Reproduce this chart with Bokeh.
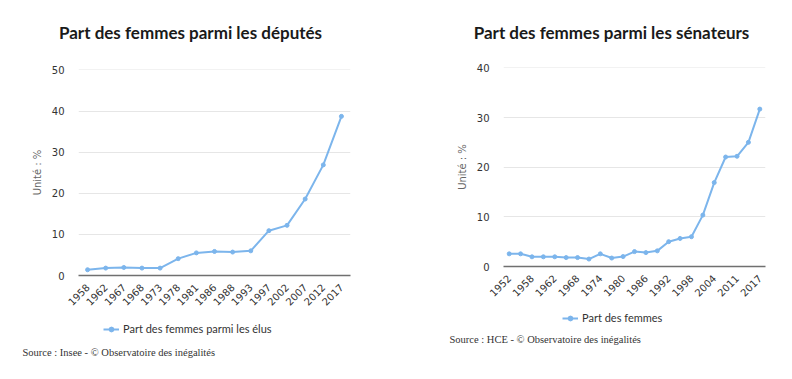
from bokeh.plotting import figure
from bokeh.models import (FactorRange, Range1d, Label, Legend, LegendItem,
                          FixedTicker, CustomJSTickFormatter)
from bokeh.layouts import row, column
from bokeh.embed import file_html
from bokeh.resources import INLINE

# ---- data ----
dep_years = ["1958", "1962", "1967", "1968", "1973", "1978", "1981", "1986",
             "1988", "1993", "1997", "2002", "2007", "2012", "2017"]
dep_values = [1.4, 1.8, 1.95, 1.8, 1.8, 4.1, 5.5, 5.85, 5.7, 6.0, 10.9, 12.2,
              18.6, 26.9, 38.7]

sen_years = ["1952", "1955", "1958", "1959", "1962", "1965", "1968", "1971",
             "1974", "1977", "1980", "1983", "1986", "1989", "1992", "1995",
             "1998", "2001", "2004", "2008", "2011", "2014", "2017"]
sen_values = [2.55, 2.55, 1.95, 1.95, 1.95, 1.8, 1.8, 1.5, 2.55, 1.7, 2.0,
              3.0, 2.8, 3.15, 5.0, 5.65, 6.0, 10.35, 16.9, 22.05, 22.2, 25.0,
              31.7]

dep_title = "Part des femmes parmi les députés"
sen_title = "Part des femmes parmi les sénateurs"
dep_legend = "Part des femmes parmi les élus"
sen_legend = "Part des femmes"
dep_source = "Source : Insee - © Observatoire des inégalités"
sen_source = "Source : HCE - © Observatoire des inégalités"
axis_title = "Unité : %"

LINE = "#7cb5ec"
TICK_FONT = "DejaVu Sans"
W = 790


def text_label(x, y, text, font, size, style, color, align):
    return Label(x=x, y=y, x_units="screen", y_units="screen", text=text,
                 text_font=font, text_font_size=size, text_font_style=style,
                 text_color=color, text_align=align, text_baseline="middle")


# ---- titles (one strip over both charts) ----
title_fig = figure(width=W, height=58, output_backend="svg",
                   toolbar_location=None, tools="",
                   x_axis_type=None, y_axis_type=None,
                   x_range=Range1d(0, 1), y_range=Range1d(0, 1), min_border=0)
title_fig.outline_line_color = None
title_fig.grid.visible = False
title_fig.add_layout(text_label(190, 26, dep_title, "Lato", "17px", "bold",
                                "#1a1a1a", "center"))
title_fig.add_layout(text_label(611, 26, sen_title, "Lato", "17px", "bold",
                                "#1a1a1a", "center"))


# ---- charts ----
def chart_fig(years, values, ymax, width, height, borders, label_step):
    left, right, top, bottom = borders
    p = figure(x_range=FactorRange(*years, range_padding=0),
               y_range=Range1d(0, ymax * 1.002),
               width=width, height=height, output_backend="svg",
               toolbar_location=None, tools="",
               min_border_left=left, min_border_right=right,
               min_border_top=top, min_border_bottom=bottom)
    p.outline_line_color = None

    p.line(years, values, line_color=LINE, line_width=2)
    p.scatter(years, values, size=4, fill_color=LINE, line_color=LINE)

    p.yaxis.ticker = FixedTicker(ticks=list(range(0, ymax + 1, 10)))
    p.yaxis.axis_line_color = None
    p.yaxis.major_tick_line_color = None
    p.yaxis.minor_tick_line_color = None
    p.yaxis.major_label_text_font = TICK_FONT
    p.yaxis.major_label_text_font_size = "10px"
    p.yaxis.major_label_text_color = "#333333"
    p.yaxis.major_label_standoff = 8
    p.yaxis.axis_label = axis_title
    p.yaxis.axis_label_text_font = TICK_FONT
    p.yaxis.axis_label_text_font_size = "10px"
    p.yaxis.axis_label_text_font_style = "normal"
    p.yaxis.axis_label_text_color = "#666666"
    p.yaxis.axis_label_standoff = 6

    p.xaxis.axis_line_color = "#707070"
    p.xaxis.axis_line_width = 1.5
    p.xaxis.major_tick_line_color = None
    p.xaxis.minor_tick_line_color = None
    p.xaxis.major_label_orientation = 0.785398
    p.xaxis.major_label_text_font = TICK_FONT
    p.xaxis.major_label_text_font_size = "10px"
    p.xaxis.major_label_text_color = "#333333"
    p.xaxis.major_label_standoff = 4
    if label_step > 1:
        p.xaxis.formatter = CustomJSTickFormatter(
            args=dict(step=label_step),
            code="return (index % step == 0) ? tick : '';")

    p.xgrid.grid_line_color = None
    p.ygrid.grid_line_color = "#e6e6e6"
    p.ygrid.grid_line_width = 1
    return p


chart1 = chart_fig(dep_years, dep_values, 50, 408, 254, (78, 58, 11, 37), 1)
chart2 = chart_fig(sen_years, sen_values, 40, 382, 254, (95, 25, 9, 46), 2)

# ---- footer: legends and sources ----
all_years = sorted(set(dep_years) | set(sen_years))
foot = figure(width=W, height=63, output_backend="svg",
              toolbar_location=None, tools="",
              x_axis_type=None, y_axis_type=None,
              x_range=FactorRange(*all_years), y_range=Range1d(-2, -1),
              min_border=0)
foot.outline_line_color = None
foot.grid.visible = False

legend_specs = [(dep_years, dep_values, dep_legend, (103, 40)),
                (sen_years, sen_values, sen_legend, (562, 51))]
for yrs, vals, txt, loc in legend_specs:
    # series drawn outside the visible y range: only used as legend proxies
    r = foot.line(yrs, vals, line_color=LINE, line_width=2)
    c = foot.scatter(yrs, vals, size=4, fill_color=LINE, line_color=LINE)
    leg = Legend(items=[LegendItem(label=txt, renderers=[r, c])],
                 location=loc, orientation="horizontal",
                 padding=0, margin=0, spacing=0,
                 glyph_width=16, glyph_height=12, label_height=12,
                 label_standoff=4,
                 label_text_font="Lato", label_text_font_size="11px",
                 label_text_color="#333333",
                 border_line_color=None, background_fill_alpha=0)
    foot.add_layout(leg, "center")

foot.add_layout(text_label(22, 23, dep_source, "Liberation Serif", "10.5px",
                           "normal", "#333333", "left"))
foot.add_layout(text_label(449, 36, sen_source, "Liberation Serif", "10.5px",
                           "normal", "#333333", "left"))

layout = column(title_fig, row(column(chart1), column(chart2), spacing=0),
                foot, spacing=0)
open("out.html", "w").write(file_html(layout, INLINE))
